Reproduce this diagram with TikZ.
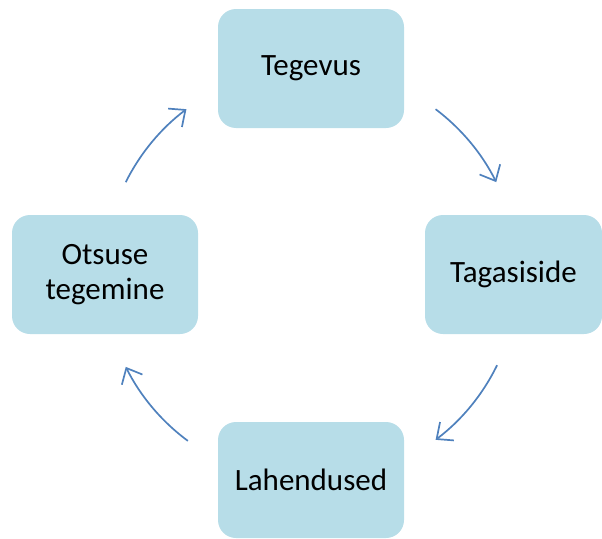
\documentclass[tikz,border=0pt]{standalone}
\usepackage{fontspec}
\setmainfont{Carlito}
\usetikzlibrary{arrows.meta}
\definecolor{boxfill}{HTML}{B7DDE8}
\definecolor{arrowblue}{HTML}{4F81BD}
\begin{document}
\begin{tikzpicture}[x=1pt,y=-1pt,
  box/.style={fill=boxfill, rounded corners=18pt, minimum width=186pt, minimum height=119pt,
    inner sep=0pt, align=center, font=\fontsize{31}{35}\selectfont},
  flow/.style={draw=arrowblue, line width=1.7pt, -{Straight Barb[length=13pt,width=23pt,line width=1.7pt]}}]
\useasboundingbox (0,0) rectangle (602,538);
\clip (0,0) rectangle (602,538);
\node[box] (top) at (311,68.5) {Tegevus};
\node[box, minimum width=177pt] (right) at (513.5,274.5) {Tagasiside};
\node[box, minimum height=116pt] (bottom) at (311,480) {Lahendused};
\node[box] (left) at (105,274.5) {Otsuse\\tegemine};
\coordinate (c) at (311,274.5);
\path (c) ++(-53:207) coordinate (a1);
\path (c) ++(26:207) coordinate (a2);
\path (c) ++(126.5:207) coordinate (a3);
\path (c) ++(206.5:207) coordinate (a4);
\draw[flow] (a1) arc[start angle=-53, end angle=-26.5, radius=207];
\draw[flow] (a2) arc[start angle=26, end angle=53, radius=207];
\draw[flow] (a3) arc[start angle=126.5, end angle=153.5, radius=207];
\draw[flow] (a4) arc[start angle=206.5, end angle=233, radius=207];
\end{tikzpicture}
\end{document}
